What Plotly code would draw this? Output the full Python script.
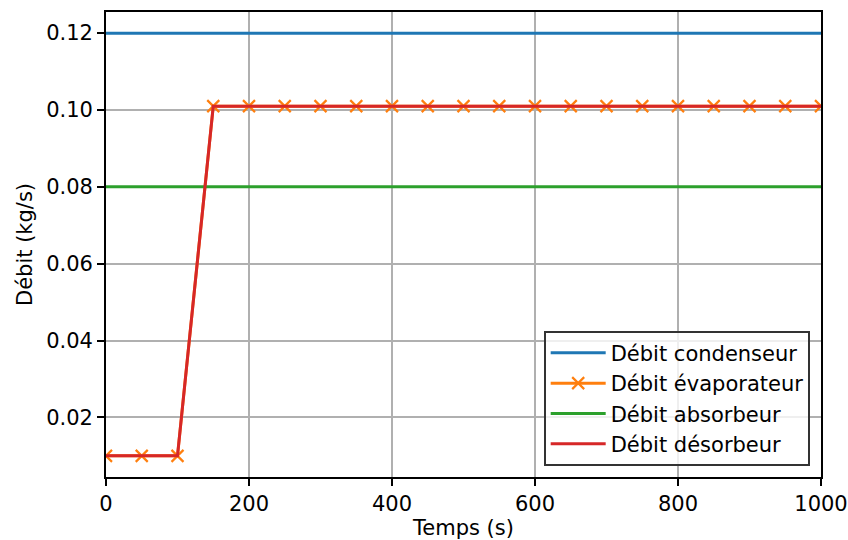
import plotly.graph_objects as go

temps = [0, 50, 100, 150, 200, 250, 300, 350, 400, 450, 500, 550, 600, 650, 700, 750, 800, 850, 900, 950, 1000]
debit_condenseur = [0.12] * 21
debit_evaporateur = [0.01, 0.01, 0.01] + [0.101] * 18
debit_absorbeur = [0.08] * 21
debit_desorbeur = [0.01, 0.01, 0.01] + [0.101] * 18

x_ticks = [0, 200, 400, 600, 800, 1000]
y_ticks = [0.02, 0.04, 0.06, 0.08, 0.10, 0.12]
y_labels = ["0.02", "0.04", "0.06", "0.08", "0.10", "0.12"]

FONT = "DejaVu Sans"
FS = 21

fig = go.Figure()
fig.add_trace(go.Scatter(x=temps, y=debit_condenseur, mode="lines", name="Débit condenseur",
                         line=dict(color="#1f77b4", width=3)))
fig.add_trace(go.Scatter(x=temps, y=debit_evaporateur, mode="lines+markers", name="Débit évaporateur",
                         line=dict(color="#ff7f0e", width=3),
                         marker=dict(symbol="x-thin-open", size=12, color="#ff7f0e",
                                     line=dict(color="#ff7f0e", width=2.2))))
fig.add_trace(go.Scatter(x=temps, y=debit_absorbeur, mode="lines", name="Débit absorbeur",
                         line=dict(color="#2ca02c", width=3)))
fig.add_trace(go.Scatter(x=temps, y=debit_desorbeur, mode="lines", name="Débit désorbeur",
                         line=dict(color="#d62728", width=3)))

axis_common = dict(
    showgrid=True, gridcolor="#b0b0b0", gridwidth=1.6,
    showline=True, linecolor="black", linewidth=1.7, mirror=True,
    ticks="outside", ticklen=7, tickwidth=1.7, tickcolor="black",
    zeroline=False, automargin=False,
    tickfont=dict(family=FONT, size=FS, color="black"),
)

fig.update_layout(
    width=848, height=540,
    margin=dict(l=106, r=27, t=12, b=63),
    paper_bgcolor="white", plot_bgcolor="white",
    font=dict(family=FONT, size=FS, color="black"),
    xaxis=dict(range=[0, 1000], tickvals=x_ticks,
               title=dict(text="Temps (s)", font=dict(family=FONT, size=FS), standoff=4),
               **axis_common),
    yaxis=dict(range=[0.0045, 0.1255], tickvals=y_ticks, ticktext=y_labels,
               title=dict(text="Débit (kg/s)", font=dict(family=FONT, size=FS), standoff=8),
               **axis_common),
    legend=dict(x=0.9846, y=0.0237, xanchor="right", yanchor="bottom",
                bgcolor="rgba(255,255,255,0.8)", bordercolor="#333333", borderwidth=1.7,
                font=dict(family=FONT, size=FS, color="black"),
                tracegroupgap=0, itemwidth=55),
    showlegend=True,
)

fig.write_html("out.html", config={"displayModeBar": False},
               post_script="document.body.style.margin='0';")
